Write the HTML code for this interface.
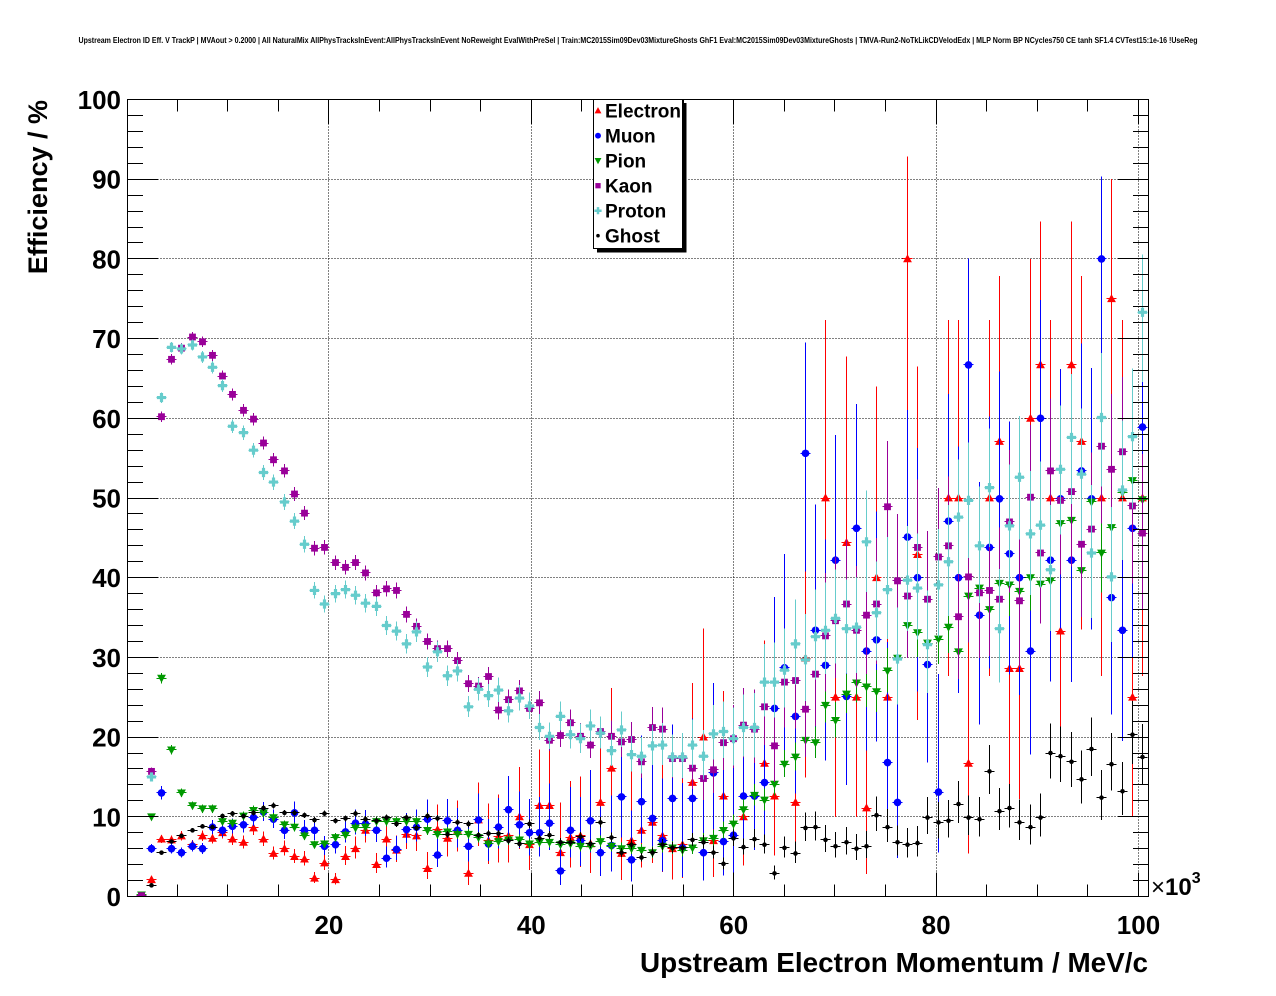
<!DOCTYPE html>
<html>
<head>
<meta charset="utf-8">
<style>
  html,body{margin:0;padding:0;background:#fff;}
  svg{display:block;}
  text{font-family:"Liberation Sans",Arial,Helvetica,sans-serif;fill:#000;}
</style>
</head>
<body>
<svg id="c" xmlns="http://www.w3.org/2000/svg" width="1276" height="996" viewBox="0 0 1276 996">
  <rect x="0" y="0" width="1276" height="996" fill="#ffffff"/>
  <defs>
    <clipPath id="clip"><rect x="127.5" y="99.5" width="1021" height="797"/></clipPath>
  </defs>

  <!-- title -->
  <text x="638" y="43" font-size="8" font-weight="bold" text-anchor="middle" textLength="1119" lengthAdjust="spacingAndGlyphs">Upstream Electron ID Eff. V TrackP | MVAout &gt; 0.2000 | All NaturalMix AllPhysTracksInEvent:AllPhysTracksInEvent NoReweight EvalWithPreSel | Train:MC2015Sim09Dev03MixtureGhosts GhF1 Eval:MC2015Sim09Dev03MixtureGhosts | TMVA-Run2-NoTkLikCDVelodEdx | MLP Norm BP NCycles750 CE tanh SF1.4 CVTest15:1e-16 !UseReg</text>

  <g id="grid" stroke="#000" stroke-width="1" stroke-dasharray="1 2" shape-rendering="crispEdges" fill="none"></g>
  <g id="data" clip-path="url(#clip)"></g>
  <g id="axes" stroke="#000" stroke-width="1" shape-rendering="crispEdges" fill="none">
    <rect x="127.5" y="99.5" width="1021" height="797"/>
  </g>

  <!-- y tick labels -->
  <g font-size="26" font-weight="bold" text-anchor="end">
    <text x="121" y="906">0</text>
    <text x="121" y="826.3">10</text>
    <text x="121" y="746.6">20</text>
    <text x="121" y="666.9">30</text>
    <text x="121" y="587.2">40</text>
    <text x="121" y="507.5">50</text>
    <text x="121" y="427.8">60</text>
    <text x="121" y="348.1">70</text>
    <text x="121" y="268.4">80</text>
    <text x="121" y="188.7">90</text>
    <text x="121" y="109">100</text>
  </g>
  <!-- x tick labels -->
  <g font-size="26" font-weight="bold" text-anchor="middle">
    <text x="328.9" y="934">20</text>
    <text x="531.3" y="934">40</text>
    <text x="733.7" y="934">60</text>
    <text x="936.1" y="934">80</text>
    <text x="1138.5" y="934">100</text>
  </g>
  <text x="1151" y="895" font-size="24"><tspan>×</tspan><tspan font-weight="bold">10</tspan><tspan font-weight="bold" font-size="16" dy="-12">3</tspan></text>

  <!-- axis titles -->
  <text x="1148" y="972" font-size="27.5" font-weight="bold" text-anchor="end" textLength="508" lengthAdjust="spacingAndGlyphs">Upstream Electron Momentum / MeV/c</text>
  <text transform="translate(47,100) rotate(-90)" font-size="27" font-weight="bold" text-anchor="end">Efficiency / %</text>

  <!-- legend -->
  <rect x="597" y="103" width="89.5" height="149.5" fill="#000"/>
  <rect x="593.5" y="99.5" width="89" height="149" fill="#fff" stroke="#000" stroke-width="1" shape-rendering="crispEdges"/>
  <g id="legmk"></g>
  <g font-size="19" font-weight="bold">
    <text x="605" y="117.5">Electron</text>
    <text x="605" y="142.5">Muon</text>
    <text x="605" y="167.5">Pion</text>
    <text x="605" y="192.5">Kaon</text>
    <text x="605" y="217.5">Proton</text>
    <text x="605" y="242.5">Ghost</text>
  </g>
</svg>

<script>
(function(){
var NS="http://www.w3.org/2000/svg";
function el(tag,attrs,parent){var e=document.createElementNS(NS,tag);for(var a in attrs)e.setAttribute(a,attrs[a]);parent.appendChild(e);return e;}
function X(v){return 126.5+10.12*v;}
function Y(v){return 896.5-7.97*v;}
function PX(i){return 141+10.22*i;}
function h(v){return Math.floor(v)+0.5;}

var grid=document.getElementById('grid');
[20,40,60,80,100].forEach(function(v){var x=h(X(v));el('line',{x1:x,y1:99.5,x2:x,y2:896.5},grid);});
for(var v=10;v<=90;v+=10){var y=h(Y(v));el('line',{x1:127.5,y1:y,x2:1148.5,y2:y},grid);}

var axes=document.getElementById('axes');
for(var v=0;v<=100;v+=2){
  var y=h(Y(v)); var L=(v%10===0)?31:15.5;
  el('line',{x1:127.5,y1:y,x2:127.5+L,y2:y},axes);
  el('line',{x1:1148.5-L,y1:y,x2:1148.5,y2:y},axes);
}
for(var v=5;v<=100;v+=5){
  var x=h(X(v)); var L=(v%20===0)?24:12;
  el('line',{x1:x,y1:896.5,x2:x,y2:896.5-L},axes);
  el('line',{x1:x,y1:99.5,x2:x,y2:99.5+L},axes);
}

var n=null;
var E=[n,2.1,7.2,7.1,7.6,6.5,7.6,7.3,8.0,7.2,6.8,8.6,7.2,5.4,6.0,5.0,4.7,2.3,4.2,2.1,5.0,6.0,8.3,4.0,7.2,5.8,7.8,7.6,3.5,8.4,7.3,8.3,2.9,9.6,7.0,7.5,7.6,10.0,6.5,11.4,11.4,5.5,7.4,7.6,6.6,11.8,16.1,5.4,7.0,8.3,9.3,7.6,6.0,6.5,14.3,20.0,7.0,12.6,n,10.0,n,16.7,12.6,n,11.8,29.9,n,50.0,25.0,44.4,25.0,11.1,40.0,25.0,n,80.0,42.9,n,n,50.0,50.0,16.7,n,50.0,57.1,28.6,28.6,60.0,66.7,50.0,33.3,66.7,57.1,n,50.0,75.0,50.0,25.0,50.0];
var M=[n,6.0,13.0,6.0,5.5,6.3,6.0,8.7,8.3,8.8,9.0,9.9,10.6,9.7,8.3,10.5,8.3,8.3,6.3,6.5,8.1,9.2,9.1,8.3,4.8,5.9,8.4,8.7,9.7,5.2,9.5,8.3,6.3,9.6,6.6,8.7,10.9,9.0,8.0,8.0,9.2,3.2,8.3,7.0,9.5,5.5,6.4,12.5,4.6,11.9,9.8,7.0,12.3,6.1,12.3,5.5,15.5,6.9,7.7,12.6,12.6,14.3,23.6,28.7,22.6,55.6,33.4,29.0,42.2,25.1,46.2,30.8,32.2,16.8,11.8,45.1,40.0,29.1,13.1,47.1,40.0,66.7,35.3,43.8,49.9,43.0,40.0,30.8,60.0,42.2,49.9,42.2,53.4,49.9,80.0,37.5,33.4,46.2,58.9];
var P=[0.2,10.0,27.4,18.4,13.0,11.4,11.0,11.0,9.4,9.2,10.1,10.8,10.5,9.9,9.0,8.7,7.6,6.5,6.6,7.4,7.7,8.6,8.7,9.4,9.4,9.4,9.4,9.4,8.3,7.8,8.1,7.8,7.8,7.4,6.6,6.9,7.1,7.1,6.6,6.8,6.8,6.5,6.6,6.3,6.3,6.9,6.3,6.0,6.0,5.8,5.5,6.3,6.1,5.8,6.1,7.0,7.3,8.3,9.1,10.9,12.7,12.1,14.1,16.6,17.5,19.6,19.3,24.0,22.1,25.4,26.8,26.3,25.7,28.3,29.9,34.0,33.1,31.8,32.3,33.8,30.7,37.7,38.7,36.0,39.3,39.1,38.3,40.0,39.2,39.6,46.8,47.2,40.9,49.5,43.1,46.3,50.7,52.2,49.8];
var K=[0.1,15.7,60.2,67.4,68.8,70.2,69.6,67.9,65.3,63.0,61.0,59.9,56.9,54.8,53.4,50.5,48.1,43.7,43.8,41.9,41.3,41.9,40.6,38.1,38.6,38.4,35.4,33.9,32.0,31.1,31.1,29.6,26.7,26.4,27.6,23.4,24.7,25.8,23.6,24.3,19.6,20.2,21.8,20.1,19.0,20.7,20.1,19.4,19.7,16.9,21.2,21.0,17.3,17.3,16.1,14.8,15.9,19.3,19.8,21.5,21.0,23.8,18.9,26.9,27.1,23.5,27.9,32.7,34.6,36.7,33.4,35.3,36.7,48.9,39.6,37.7,43.8,37.3,42.6,44.0,35.1,40.1,38.1,38.4,37.3,47.0,37.1,50.1,43.1,53.4,49.7,50.8,44.2,46.1,56.5,53.6,55.8,49.0,45.6];
var PR=[n,15.0,62.6,68.9,68.7,69.2,67.7,66.4,64.1,59.0,58.2,56.0,53.2,52.0,49.5,47.1,44.2,38.4,36.7,38.0,38.5,37.8,36.8,36.4,34.0,33.3,31.7,33.2,28.8,30.7,27.7,28.3,23.8,26.0,25.2,25.9,23.3,24.9,23.9,21.2,20.1,22.6,20.3,19.8,21.4,20.5,18.3,20.9,17.8,17.6,18.9,19.0,17.5,17.5,19.0,17.6,20.4,20.7,19.8,21.2,21.2,26.9,26.9,28.4,31.7,29.7,32.6,33.4,34.9,33.6,33.8,44.5,35.6,38.5,29.8,39.7,38.7,31.6,39.1,42.0,47.6,49.7,44.0,51.3,33.6,46.5,52.6,45.5,46.6,41.0,53.6,57.6,53.0,43.1,60.1,40.1,51.0,57.7,73.3];
var G=[n,1.4,5.5,6.9,7.6,8.3,8.8,8.7,10.1,10.4,10.1,10.5,11.1,11.4,10.5,10.5,10.2,9.6,10.4,9.5,9.8,10.4,9.7,9.5,9.9,9.1,9.9,8.6,10.1,9.8,7.8,9.3,9.1,7.7,7.9,7.9,7.0,6.6,9.1,7.3,7.7,6.8,6.8,7.5,6.6,9.3,7.4,5.5,6.5,4.9,5.5,6.5,6.1,6.1,7.1,6.8,5.5,4.1,7.3,6.2,7.2,6.5,2.9,6.1,5.4,8.6,8.7,7.1,6.3,6.8,6.0,6.3,10.2,8.7,6.8,6.5,6.7,9.9,9.3,9.5,11.6,9.9,9.7,15.7,10.7,11.1,9.3,8.7,9.9,18.0,17.6,16.9,14.7,18.5,12.4,16.6,13.2,20.3,17.5];

var S=[
 {c:'#ff0000',m:'tu',d:E, k:[[0,3000],[10,1000],[25,200],[35,40],[45,20],[55,12],[64,8],[66,4],[98,4]]},
 {c:'#0000ff',m:'ci',d:M, k:[[0,2000],[10,800],[25,250],[35,80],[45,30],[60,12],[64,12],[66,10],[98,8]]},
 {c:'#009900',m:'td',d:P, k:[[0,5000],[10,3000],[40,1500],[60,600],[70,300],[85,150],[98,80]]},
 {c:'#990099',m:'sq',d:K, k:[[0,6000],[10,4000],[30,2000],[45,500],[55,150],[65,40],[98,25]]},
 {c:'#66cccc',m:'cr',d:PR,k:[[0,6000],[10,3000],[30,1200],[45,400],[55,150],[65,70],[98,30]]},
 {c:'#000000',m:'gh',d:G, k:[[0,10000],[30,5000],[50,1500],[60,500],[65,250],[80,150],[98,100]]}
];

function nAt(k,i){
  if(i<=k[0][0])return k[0][1];
  for(var j=1;j<k.length;j++){
    if(i<=k[j][0]){var a=k[j-1],b=k[j];var t=(i-a[0])/(b[0]-a[0]);
      return Math.exp(Math.log(a[1])+(Math.log(b[1])-Math.log(a[1]))*t);}
  }
  return k[k.length-1][1];
}
function wilson(p,N){
  var z=1,d=1+z*z/N;var c=(p+z*z/(2*N))/d;
  var hw=z*Math.sqrt(Math.max(0,p*(1-p))/N+z*z/(4*N*N))/d;
  var lo=Math.max(0,c-hw),hi=Math.min(1,c+hw);
  if(lo>p)lo=p; if(hi<p)hi=p;
  return [lo,hi];
}
function marker(type,x,y,col,s,parent){
  s=s||1;
  if(type==='tu'){
    el('polygon',{points:(x)+','+(y-4.6*s)+' '+(x-4.4*s)+','+(y+3.4*s)+' '+(x+4.4*s)+','+(y+3.4*s),fill:col},parent);
  }else if(type==='td'){
    el('polygon',{points:(x-4.4*s)+','+(y-3.4*s)+' '+(x+4.4*s)+','+(y-3.4*s)+' '+(x)+','+(y+4.6*s),fill:col},parent);
  }else if(type==='ci'){
    el('circle',{cx:x,cy:y,r:3.8*s,fill:col},parent);
  }else if(type==='sq'){
    el('rect',{x:x-3.4*s,y:y-3.4*s,width:6.8*s,height:6.8*s,fill:col},parent);
  }else if(type==='cr'){
    var a=4.6*s,b=1.6*s;
    el('polygon',{points:[x-b,y-a,x+b,y-a,x+b,y-b,x+a,y-b,x+a,y+b,x+b,y+b,x+b,y+a,x-b,y+a,x-b,y+b,x-a,y+b,x-a,y-b,x-b,y-b].join(' '),fill:col},parent);
  }else if(type==='gh'){
    el('circle',{cx:x,cy:y,r:2.3*s,fill:col},parent);
  }
}

var data=document.getElementById('data');
S.forEach(function(s){
  var g=el('g',{},data);
  var lines=el('g',{stroke:s.c,'stroke-width':1,'shape-rendering':'crispEdges',fill:'none'},g);
  var mk=el('g',{},g);
  for(var i=0;i<s.d.length;i++){
    var v=s.d[i]; if(v===null||v===undefined)continue;
    var px=PX(i), x=h(px);
    var N=nAt(s.k,i); var iv=wilson(v/100,N);
    var y=Y(v), yl=Y(iv[0]*100), yh=Y(iv[1]*100);
    el('line',{x1:x,y1:yh,x2:x,y2:yl},lines);
    var yy=h(y);
    el('line',{x1:x-5,y1:yy,x2:x+5,y2:yy},lines);
    marker(s.m,x,y,s.c,1,mk);
  }
});

var lm=document.getElementById('legmk');
var ly=[110.7,135.7,160.7,185.7,210.7,235.7];
S.forEach(function(s,j){marker(s.m,598,ly[j],s.c,0.78,lm);});
})();
</script>
</body>
</html>
